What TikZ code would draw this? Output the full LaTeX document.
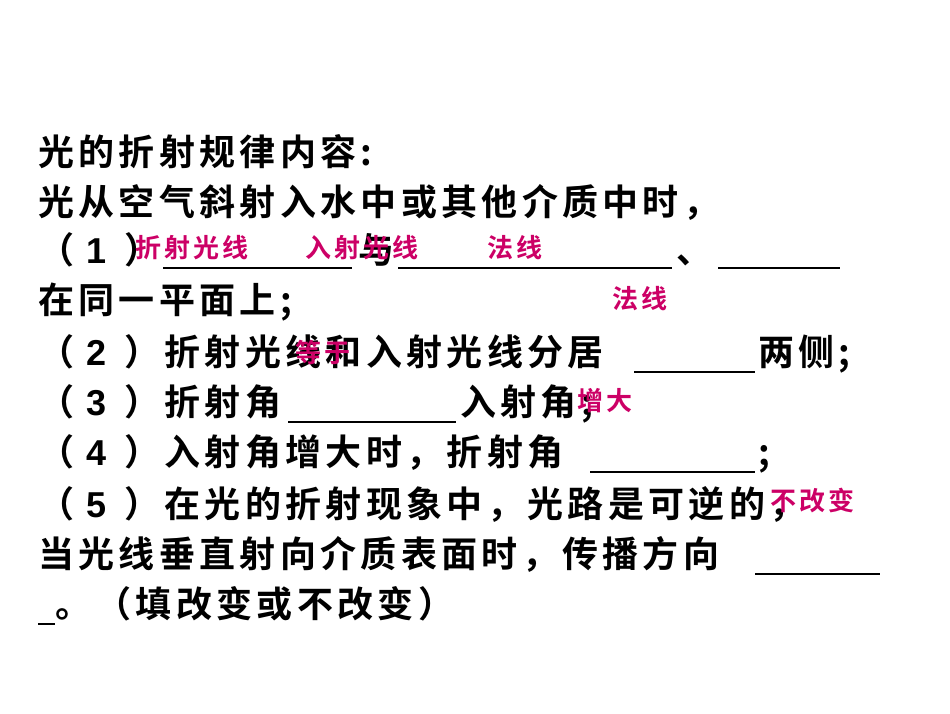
\documentclass[tikz,border=0pt]{standalone}
\usepackage{fontspec}
\newfontfamily\cjk[LetterSpace=12]{Noto Sans CJK SC Bold}
\newfontfamily\cjkr[LetterSpace=12]{Noto Sans CJK SC Bold}
\newfontfamily\arial{Liberation Sans}
\definecolor{ans}{HTML}{CC0066}
\begin{document}
\begin{tikzpicture}[x=1pt,y=-1pt,
  t/.style={anchor=base west,inner sep=0pt,font=\fontsize{36}{40}\selectfont\cjk},
  r/.style={anchor=base west,inner sep=0pt,text=ans,font=\fontsize{26}{30}\selectfont\cjkr},
  bl/.style={line width=1.6pt}]
\useasboundingbox (0,0) rectangle (950,713);
\node[t] (l1) at (38,165) {光的折射规律内容:};
\node[t] (l2) at (38,215) {光从空气斜射入水中或其他介质中时，};
\node[t] (l3a) at (38,263) {（\,\,{\arial\bfseries 1}\,\,\,）};
\coordinate (b1s) at (163,268); \coordinate (b1e) at (352,268);
\draw[bl] (b1s) -- (b1e);
\node[t] (l3b) at (358,263) {与};
\coordinate (b2s) at (398,268); \coordinate (b2e) at (672,268);
\draw[bl] (b2s) -- (b2e);
\node[t] (l3c) at (676,263) {、};
\coordinate (b3s) at (718,268); \coordinate (b3e) at (840,268);
\draw[bl] (b3s) -- (b3e);
\node[t] (l4) at (38,313) {在同一平面上;};
\node[t] (l5) at (38,365) {（\,\,{\arial\bfseries 2}\,\,\,）折射光线和入射光线分居};
\coordinate (b4s) at (634,372); \coordinate (b4e) at (755,372);
\draw[bl] (b4s) -- (b4e);
\node[t] (l5b) at (758,365) {两侧;};
\node[t] (l6) at (38,415) {（\,\,{\arial\bfseries 3}\,\,\,）折射角};
\coordinate (b5s) at (288,422); \coordinate (b5e) at (456,422);
\draw[bl] (b5s) -- (b5e);
\node[t] (l6b) at (460,415) {入射角;};
\node[t] (l7) at (38,465) {（\,\,{\arial\bfseries 4}\,\,\,）入射角增大时，折射角};
\coordinate (b6s) at (590,472); \coordinate (b6e) at (755,472);
\draw[bl] (b6s) -- (b6e);
\node[t] (l7b) at (758,465) {;};
\node[t] (l8) at (38,517) {（\,\,{\arial\bfseries 5}\,\,\,）在光的折射现象中，光路是可逆的，};
\node[t] (l9) at (38,567) {当光线垂直射向介质表面时，传播方向};
\coordinate (b7s) at (755,574); \coordinate (b7e) at (880,574);
\draw[bl] (b7s) -- (b7e);
\coordinate (b8s) at (38,624); \coordinate (b8e) at (55,624);
\draw[bl] (b8s) -- (b8e);
\node[t] (l10) at (55,617) {。（填改变或不改变）};
\node[r] (a1) at (135,257) {折射光线};
\node[r] (a2) at (305,257) {入射光线};
\node[r] (a3) at (487,257) {法线};
\node[r] (a4) at (612,308) {法线};
\node[r] (a5) at (295,362) {等于};
\node[r] (a6) at (577,410) {增大};
\node[r] (a7) at (770,510) {不改变};
\end{tikzpicture}
\end{document}
